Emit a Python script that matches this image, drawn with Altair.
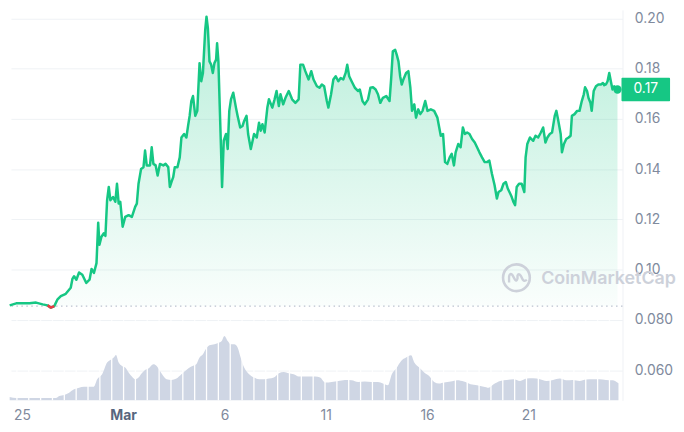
import altair as alt
import pandas as pd

# ---------------- data ----------------
# time in days since 2024-02-25 00:00 UTC, price in USD
price_days = [-0.602, -0.279, 0.049, 0.377, 0.700, 1.027, 1.272, 1.433, 1.600, 1.761,
              1.923, 2.167, 2.412, 2.495, 2.578, 2.691, 2.823, 2.984, 3.180, 3.341,
              3.439, 3.557, 3.684, 3.767, 3.830, 3.928, 4.046, 4.124, 4.207, 4.290,
              4.369, 4.501, 4.613, 4.696, 4.779, 4.858, 4.975, 5.102, 5.269, 5.430,
              5.592, 5.675, 5.758, 5.885, 6.003, 6.081, 6.164, 6.325, 6.409, 6.492,
              6.604, 6.702, 6.815, 6.981, 7.093, 7.226, 7.304, 7.387, 7.470, 7.548,
              7.680, 7.793, 7.876, 8.008, 8.121, 8.204, 8.282, 8.365, 8.448, 8.561,
              8.659, 8.771, 8.855, 8.938, 9.050, 9.114, 9.182, 9.261, 9.344, 9.427,
              9.505, 9.588, 9.637, 9.701, 9.769, 9.833, 9.882, 9.965, 10.078, 10.161,
              10.239, 10.322, 10.435, 10.567, 10.650, 10.777, 10.894, 10.973, 11.090, 11.168,
              11.301, 11.462, 11.594, 11.707, 11.790, 11.873, 11.985, 12.118, 12.196, 12.362,
              12.475, 12.572, 12.685, 12.768, 12.900, 13.013, 13.174, 13.340, 13.502, 13.663,
              13.747, 13.879, 13.991, 14.153, 14.285, 14.397, 14.564, 14.691, 14.808, 14.921,
              15.053, 15.131, 15.263, 15.376, 15.493, 15.620, 15.738, 15.865, 15.982, 16.061,
              16.158, 16.276, 16.437, 16.599, 16.682, 16.814, 16.926, 17.088, 17.205, 17.332,
              17.464, 17.577, 17.694, 17.822, 17.988, 18.149, 18.232, 18.311, 18.428, 18.506,
              18.590, 18.673, 18.751, 18.834, 18.966, 19.079, 19.177, 19.260, 19.372, 19.456,
              19.568, 19.666, 19.778, 19.910, 20.023, 20.189, 20.351, 20.512, 20.678, 20.791,
              20.889, 21.001, 21.119, 21.217, 21.329, 21.412, 21.540, 21.657, 21.769, 21.867,
              21.980, 22.097, 22.224, 22.356, 22.469, 22.586, 22.714, 22.846, 22.958, 23.076,
              23.203, 23.335, 23.447, 23.531, 23.663, 23.775, 23.888, 23.985, 24.103, 24.181,
              24.264, 24.348, 24.426, 24.543, 24.670, 24.802, 24.866, 24.949, 25.081, 25.243,
              25.355, 25.487, 25.619, 25.732, 25.845, 25.942, 26.060, 26.172, 26.304, 26.383,
              26.466, 26.598, 26.661, 26.759, 26.872, 26.989, 27.087, 27.151, 27.283, 27.410,
              27.527, 27.640, 27.738, 27.801, 27.899, 27.968, 28.066, 28.129, 28.227, 28.339,
              28.457, 28.584, 28.682, 28.750, 28.829, 28.912, 28.995, 29.073, 29.156, 29.240,
              29.367, 29.401]
price_vals = [0.0858, 0.0866, 0.0866, 0.0866, 0.0869, 0.0862, 0.0858, 0.0849, 0.0855, 0.0882,
              0.0895, 0.0904, 0.0928, 0.0963, 0.0974, 0.0960, 0.0989, 0.0980, 0.0947, 0.0960,
              0.1003, 0.0987, 0.1026, 0.1187, 0.1099, 0.1131, 0.1145, 0.1134, 0.1276, 0.1329,
              0.1276, 0.1289, 0.1270, 0.1342, 0.1263, 0.1270, 0.1171, 0.1210, 0.1217, 0.1210,
              0.1250, 0.1263, 0.1342, 0.1401, 0.1408, 0.1474, 0.1415, 0.1415, 0.1487, 0.1421,
              0.1415, 0.1375, 0.1421, 0.1415, 0.1421, 0.1408, 0.1329, 0.1349, 0.1368, 0.1408,
              0.1408, 0.1447, 0.1526, 0.1540, 0.1526, 0.1572, 0.1612, 0.1671, 0.1691, 0.1612,
              0.1632, 0.1822, 0.1750, 0.1783, 0.1954, 0.2007, 0.1961, 0.1829, 0.1816, 0.1783,
              0.1822, 0.1836, 0.1901, 0.1829, 0.1645, 0.1474, 0.1329, 0.1513, 0.1540, 0.1480,
              0.1632, 0.1678, 0.1704, 0.1645, 0.1612, 0.1566, 0.1572, 0.1592, 0.1612, 0.1540,
              0.1480, 0.1540, 0.1526, 0.1585, 0.1553, 0.1579, 0.1546, 0.1645, 0.1678, 0.1645,
              0.1678, 0.1711, 0.1651, 0.1698, 0.1658, 0.1684, 0.1711, 0.1678, 0.1664, 0.1678,
              0.1816, 0.1816, 0.1790, 0.1757, 0.1790, 0.1757, 0.1730, 0.1724, 0.1737, 0.1730,
              0.1671, 0.1645, 0.1698, 0.1757, 0.1770, 0.1750, 0.1763, 0.1757, 0.1783, 0.1816,
              0.1770, 0.1750, 0.1724, 0.1711, 0.1717, 0.1671, 0.1658, 0.1678, 0.1724, 0.1726,
              0.1717, 0.1698, 0.1664, 0.1684, 0.1691, 0.1671, 0.1763, 0.1869, 0.1875, 0.1855,
              0.1829, 0.1770, 0.1737, 0.1757, 0.1783, 0.1790, 0.1724, 0.1632, 0.1658, 0.1605,
              0.1638, 0.1619, 0.1632, 0.1671, 0.1632, 0.1638, 0.1632, 0.1605, 0.1533, 0.1540,
              0.1428, 0.1421, 0.1447, 0.1461, 0.1415, 0.1467, 0.1500, 0.1487, 0.1566, 0.1540,
              0.1546, 0.1540, 0.1520, 0.1506, 0.1487, 0.1467, 0.1447, 0.1428, 0.1428, 0.1434,
              0.1382, 0.1336, 0.1283, 0.1309, 0.1316, 0.1342, 0.1349, 0.1323, 0.1303, 0.1289,
              0.1270, 0.1257, 0.1329, 0.1342, 0.1342, 0.1309, 0.1447, 0.1500, 0.1526, 0.1513,
              0.1533, 0.1526, 0.1546, 0.1566, 0.1506, 0.1526, 0.1540, 0.1546, 0.1612, 0.1632,
              0.1599, 0.1540, 0.1467, 0.1500, 0.1520, 0.1526, 0.1533, 0.1612, 0.1619, 0.1632,
              0.1632, 0.1671, 0.1698, 0.1726, 0.1711, 0.1684, 0.1664, 0.1632, 0.1711, 0.1730,
              0.1737, 0.1737, 0.1743, 0.1734, 0.1737, 0.1750, 0.1783, 0.1750, 0.1717, 0.1730,
              0.1717, 0.1717]

# trading volume (relative units), same time axis
vol_days = [-0.602, -0.279, 0.377, 1.027, 1.678, 1.844, 2.089, 2.333, 2.578, 2.823,
            3.067, 3.557, 3.718, 3.962, 4.207, 4.369, 4.535, 4.647, 4.779, 4.941,
            5.102, 5.269, 5.430, 5.592, 5.758, 5.919, 6.081, 6.247, 6.492, 6.653,
            6.815, 6.981, 7.142, 7.387, 7.632, 7.876, 8.121, 8.365, 8.610, 8.771,
            8.938, 9.099, 9.261, 9.505, 9.750, 9.867, 9.994, 10.161, 10.322, 10.483,
            10.650, 10.777, 10.973, 11.217, 11.462, 11.707, 11.951, 12.196, 12.440, 12.685,
            12.930, 13.174, 13.419, 13.663, 13.908, 14.480, 14.725, 14.970, 15.297, 15.620,
            15.948, 16.276, 16.599, 16.926, 17.254, 17.577, 17.822, 18.066, 18.262, 18.477,
            18.722, 18.966, 19.211, 19.372, 19.617, 19.861, 20.106, 20.351, 20.595, 20.840,
            21.168, 21.491, 21.819, 22.146, 22.469, 22.797, 23.041, 23.286, 23.614, 23.937,
            24.264, 24.592, 24.915, 25.243, 25.570, 25.893, 26.221, 26.548, 26.872, 27.199,
            27.527, 27.850, 28.178, 28.505, 28.829, 29.156, 29.450]
vol_vals = [3.3, 2.3, 2.3, 2.3, 2.3, 4.3, 5.3, 7.7, 11, 12.7,
            13.7, 13.7, 21, 26, 37.7, 40.3, 42.7, 45.3, 37.7, 34.3,
            32.7, 27.7, 23.7, 21, 22.7, 27, 30.3, 31.7, 36, 34.3,
            29.3, 24.3, 21, 20.3, 21.7, 26, 30.3, 33.7, 36, 42.7,
            46, 51.7, 55, 56, 57.7, 59.3, 64.3, 59.3, 56, 56,
            52.7, 44.3, 32.7, 26, 22.7, 21, 21, 21.7, 22.7, 27,
            28.3, 27, 26, 23.7, 23.7, 23.7, 22.7, 17.7, 18.3, 19.3,
            20.3, 20, 18.3, 18.7, 18.3, 18.3, 16.7, 15, 26, 31.7,
            39.3, 42.7, 45, 37.7, 32.7, 27.7, 24.3, 18.3, 16.7, 17.7,
            18.7, 20, 18.7, 16, 15, 13.7, 12.7, 16, 19.3, 20.3,
            21, 19.3, 21.7, 22, 21, 19.3, 20.3, 21.7, 20, 20.3,
            19.3, 20.7, 21, 21, 20.3, 20, 17]

open_price = 0.0855                      # dotted reference line (period open)
y_ticks = [0.06, 0.08, 0.10, 0.12, 0.14, 0.16, 0.18, 0.20]
x_tick_days = [0, 5, 10, 15, 20, 25]     # Feb 25, Mar 1, Mar 6, 11, 16, 21
x_domain_days = [-0.538, 29.648]
y_domain = [0.048, 0.2034]
vol_domain = [0, 390]
sep_first, sep_step, sep_count = -0.245, 0.585, 51   # volume block separators

GREEN = "#16c784"
RED = "#ea3943"
GREY = "#808a9d"
WM = "#cdd1da"
FONT = "Inter"

assert len(price_days) == len(price_vals)
assert len(vol_days) == len(vol_vals)

BASE_MS = int(pd.Timestamp("2024-02-25", tz="UTC").timestamp() * 1000)


def to_ms(days):
    return [BASE_MS + int(round(d * 86400000)) for d in days]


price_df = pd.DataFrame({"t": to_ms(price_days), "price": price_vals, "day": price_days})
red_df = price_df[(price_df.day >= 1.25) & (price_df.day <= 1.65)]
vol_df = pd.DataFrame({"t": to_ms(vol_days), "vol": vol_vals})
sep_df = pd.DataFrame({"t": to_ms([sep_first + sep_step * i for i in range(sep_count)])})
last_df = price_df.tail(1).copy()
last_df["label"] = [f"{price_vals[-1]:.2f}"]
one = pd.DataFrame({"a": [0]})

x_scale = alt.Scale(type="utc", domain=to_ms(x_domain_days), nice=False)
X = alt.X(
    "t:T", scale=x_scale, title=None,
    axis=alt.Axis(
        values=to_ms(x_tick_days), ticks=False, domain=False, grid=False,
        labelExpr="utcdate(datum.value) == 1 ? 'Mar' : toString(utcdate(datum.value))",
        labelFont=FONT, labelFontSize=14, labelPadding=8, labelFlush=False,
        labelOverlap=False,
        labelFontWeight={"condition": {"test": "utcdate(datum.value) == 1", "value": "bold"},
                         "value": "normal"},
        labelColor={"condition": {"test": "utcdate(datum.value) == 1", "value": "#58667e"},
                    "value": GREY},
    ),
)
y_scale = alt.Scale(domain=y_domain, nice=False, zero=False)
v_scale = alt.Scale(domain=vol_domain, nice=False, zero=True)

y_axis = alt.Axis(
    orient="right", values=y_ticks, ticks=False, grid=True, gridColor="#eff2f5",
    domain=True, domainColor="#eff2f5",
    labelExpr="datum.value < 0.095 ? format(datum.value, '.3f') : format(datum.value, '.2f')",
    labelFont=FONT, labelFontSize=14, labelColor=GREY, labelPadding=12,
)

gradient = alt.Gradient(
    gradient="linear",
    stops=[alt.GradientStop(color="rgba(22,199,132,0.30)", offset=0),
           alt.GradientStop(color="rgba(22,199,132,0.02)", offset=1)],
    x1=1, x2=1, y1=0, y2=1,
)

area = alt.Chart(price_df).mark_area(color=gradient).encode(
    x=X,
    y=alt.Y("price:Q", scale=y_scale, axis=y_axis, title=None),
    y2=alt.Y2(datum=open_price),
)
base_layer = alt.layer(area)

vol_area = alt.Chart(vol_df).mark_area(color="#cfd6e4", interpolate="monotone").encode(
    x=X, y=alt.Y("vol:Q", scale=v_scale, axis=None),
)
seps = alt.Chart(sep_df).mark_rule(color="white", strokeWidth=1.3).encode(
    x=X,
    y=alt.Y(datum=0, type="quantitative", scale=v_scale, axis=None),
    y2=alt.Y2(datum=80),
)
vol_layer = alt.layer(vol_area, seps)

Yp = alt.Y("price:Q", scale=y_scale, axis=None, title=None)

open_rule = alt.Chart(one).mark_rule(color="#a9b2c2", strokeDash=[1.5, 3.5], strokeWidth=1).encode(
    y=alt.Y(datum=open_price, type="quantitative", scale=y_scale, axis=None),
)
line = alt.Chart(price_df).mark_line(color=GREEN, strokeWidth=2.5, strokeJoin="round").encode(x=X, y=Yp)
red = alt.Chart(red_df).mark_line(color=RED, strokeWidth=2.5, strokeJoin="round").encode(x=X, y=Yp)
dot = alt.Chart(last_df).mark_circle(color=GREEN, size=70, opacity=1).encode(x=X, y=Yp)

box = alt.Chart(last_df).transform_calculate(
    hi="datum.price + 0.0047", lo="datum.price - 0.0047"
).mark_rect(color=GREEN, cornerRadius=1).encode(
    x=alt.value(616), x2=alt.value(665),
    y=alt.Y("hi:Q", scale=y_scale, axis=None), y2="lo:Q",
)
box_text = alt.Chart(last_df).mark_text(
    color="white", font=FONT, fontSize=14, align="center", baseline="middle"
).encode(x=alt.value(640.5), y=Yp, text="label:N")

wm_text = alt.Chart(one).mark_text(
    text="CoinMarketCap", font=FONT, fontSize=18, fontWeight=600, color=WM,
    align="left", baseline="middle",
).encode(x=alt.value(535), y=alt.value(271.5))
wm_ring = alt.Chart(one).mark_point(
    shape="circle", filled=False, size=729, strokeWidth=2.6, color=WM, opacity=1
).encode(x=alt.value(510), y=alt.value(270.3))
wm_m = alt.Chart(one).mark_point(
    shape="M -0.55 0.35 L -0.55 -0.1 Q -0.48 -0.4 -0.3 -0.2 L -0.1 0.15 Q 0.02 0.3 0.08 0.05 "
          "L 0.08 -0.15 Q 0.16 -0.38 0.32 -0.15 L 0.48 0.15 Q 0.6 0.32 0.78 0.15",
    filled=False, size=729, strokeWidth=2.4, color=WM, opacity=1,
).encode(x=alt.value(510), y=alt.value(270.3))

top_layer = alt.layer(wm_ring, wm_m, wm_text, open_rule, line, red, dot, box, box_text)

chart = alt.layer(base_layer, vol_layer, top_layer).resolve_scale(
    y="independent"
).properties(
    width=617, height=394, padding=0,
    autosize=alt.AutoSizeParams(type="pad"),
    background="white",
).configure_view(stroke=None)

chart.save("out.html", embed_options={"renderer": "svg", "actions": False})
